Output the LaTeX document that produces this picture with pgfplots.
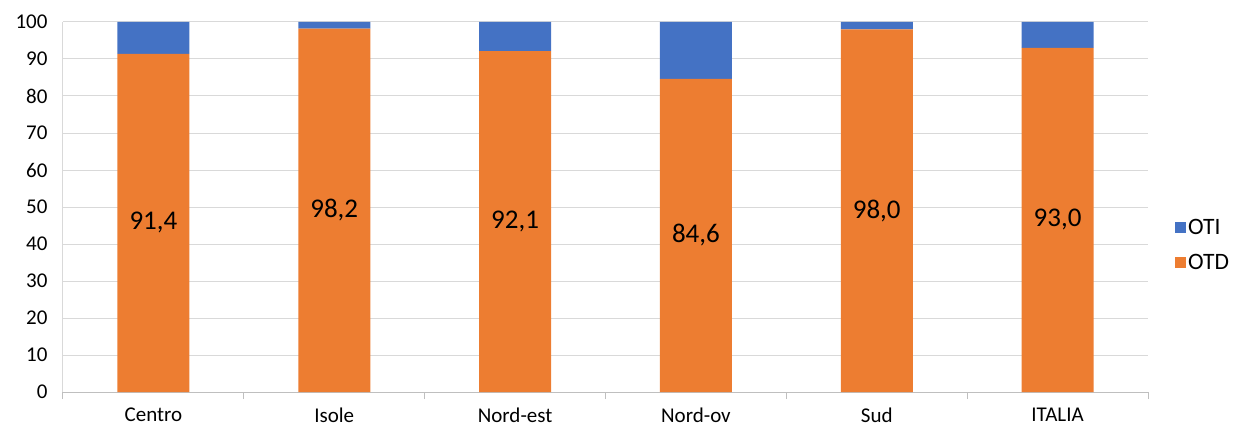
\documentclass[border=0pt]{standalone}
\usepackage{fontspec}
\setmainfont{Carlito}
\usepackage{pgfplots}
\pgfplotsset{compat=1.18}
\usepackage{pgfplotstable}
\definecolor{otd}{HTML}{ED7D31}
\definecolor{oti}{HTML}{4472C4}
\definecolor{gridc}{HTML}{D9D9D9}
\definecolor{axc}{HTML}{BFBFBF}
\pgfplotstableread{
x otd oti
0 91.4 8.6
1 98.2 1.8
2 92.1 7.9
3 84.6 15.4
4 98.0 2.0
5 93.0 7.0
}\data
\begin{document}
\begin{tikzpicture}
\begin{axis}[name=ax,
  scale only axis, width=1085pt, height=370pt,
  ybar stacked, bar width=72pt,
  xmin=-0.5, xmax=5.5, ymin=0, ymax=100,
  xtick={-0.5,0.5,1.5,2.5,3.5,4.5,5.5},
  xticklabels={},
  major x tick style={draw=axc, line width=1pt},
  xtick align=outside, major tick length=7pt,
  extra x ticks={0,1,2,3,4,5},
  extra x tick labels={Centro,Isole,Nord-est,Nord-ov,Sud,ITALIA},
  extra x tick style={major tick length=0pt, grid=none, major x tick style={draw=none}},
  ytick={0,10,...,100},
  ymajorgrids, grid style={gridc, line width=1pt},
  axis x line*=bottom, axis y line*=left,
  x axis line style={draw=axc, line width=1pt, -},
  y axis line style={draw=gridc, line width=1pt, -},
  major y tick style={draw=none},
  tick label style={font=\fontsize{21}{24}\selectfont, text=black},
  yticklabel shift=12pt,
  xticklabel style={yshift=-12pt},
  /pgf/number format/assume math mode=true,
  legend style={draw=none, at={(1,0.397)}, anchor=west, xshift=25pt,
    font=\fontsize{23.5}{26}\selectfont, row sep=14pt, inner sep=2pt},
  legend cell align=left,
  reverse legend,
  legend image code/.code={\fill[#1] (0pt,-5.5pt) rectangle (11pt,5.5pt);},
]
\addplot[fill=otd, draw=none,
  nodes near coords,
  point meta=explicit,
  every node near coord/.append style={anchor=center,
    font=\fontsize{27}{30}\selectfont, text=black,
    /pgf/number format/.cd, fixed, fixed zerofill, precision=1, use comma, assume math mode=true},
] table[x=x, y=otd, meta=otd] {\data};
\addlegendentry{OTD}
\addplot[fill=oti, draw=none] table[x=x, y=oti] {\data};
\addlegendentry{OTI}
\end{axis}
\pgfresetboundingbox
\path ([xshift=-63pt,yshift=-34pt]ax.south west) rectangle ([xshift=107pt,yshift=22pt]ax.north east);
\end{tikzpicture}
\end{document}
